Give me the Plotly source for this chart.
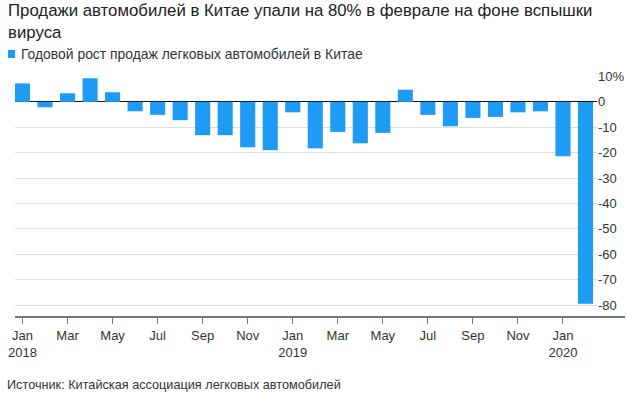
import plotly.graph_objects as go

months = ["Jan 2018", "Feb 2018", "Mar 2018", "Apr 2018", "May 2018", "Jun 2018",
          "Jul 2018", "Aug 2018", "Sep 2018", "Oct 2018", "Nov 2018", "Dec 2018",
          "Jan 2019", "Feb 2019", "Mar 2019", "Apr 2019", "May 2019", "Jun 2019",
          "Jul 2019", "Aug 2019", "Sep 2019", "Oct 2019", "Nov 2019", "Dec 2019",
          "Jan 2020", "Feb 2020"]
growth = [7.3, -2.1, 3.4, 9.3, 3.8, -3.7, -5.1, -7.2, -13.1, -13.1, -17.9, -19.0,
          -4.1, -18.3, -11.8, -16.3, -12.2, 4.8, -5.1, -9.6, -6.3, -5.9, -4.1, -3.7,
          -21.4, -79.5]
x_tick_pos = [0, 2, 4, 6, 8, 10, 12, 14, 16, 18, 20, 22, 24]
x_tick_text = ["Jan<br>2018", "Mar", "May", "Jul", "Sep", "Nov", "Jan<br>2019",
               "Mar", "May", "Jul", "Sep", "Nov", "Jan<br>2020"]
y_tick_vals = [10, 0, -10, -20, -30, -40, -50, -60, -70, -80]
y_tick_text = ["10%", "0", "-10", "-20", "-30", "-40", "-50", "-60", "-70", "-80"]

title = "Продажи автомобилей в Китае упали на 80% в феврале на фоне вспышки<br>вируса"
legend_text = "Годовой рост продаж легковых автомобилей в Китае"
source = "Источник: Китайская ассоциация легковых автомобилей"

BLUE = "#1e9bf5"
FONT = "Liberation Sans, Arial, sans-serif"

W, H = 627, 396
L, R, T, B = 15, 30, 76, 79
pw, ph = W - L - R, H - T - B


def px_x(p):
    return (p - L) / pw


def px_y(p):
    return (H - B - p) / ph


fig = go.Figure(go.Bar(
    x=list(range(len(months))), y=growth, width=0.67,
    marker=dict(color=BLUE, line=dict(width=0)),
    hovertext=months, showlegend=False,
))

fig.update_layout(
    width=W, height=H,
    margin=dict(l=L, r=R, t=T, b=B, pad=0, autoexpand=False),
    paper_bgcolor="white", plot_bgcolor="white",
    font=dict(family=FONT, color="#333333", size=13),
    xaxis=dict(range=[-0.333, 25.51], tickvals=x_tick_pos, ticktext=x_tick_text,
               ticks="outside", ticklen=6, tickcolor="#777777", tickwidth=1,
               showgrid=False, zeroline=False, showline=False, automargin=False,
               tickfont=dict(size=13, color="#333333")),
    yaxis=dict(range=[-84.7, 10.2], side="right", tickvals=y_tick_vals,
               ticktext=y_tick_text, showgrid=True, gridcolor="#dddddd",
               gridwidth=1, zeroline=True, zerolinecolor="#111111",
               zerolinewidth=1, ticks="", showline=False, automargin=False,
               tickfont=dict(size=13, color="#333333")),
    bargap=0.33,
)

# title
fig.add_annotation(text=title, xref="paper", yref="paper",
                   x=px_x(7), y=px_y(0), xanchor="left", yanchor="top",
                   align="left", showarrow=False, borderpad=0,
                   font=dict(size=16.8, color="#222222"))

# x-axis baseline extending to the right edge
fig.add_shape(type="line", xref="paper", yref="paper",
              x0=0, x1=px_x(625), y0=0, y1=0,
              line=dict(color="#777777", width=2))

# legend swatch + text
fig.add_shape(type="rect", xref="paper", yref="paper",
              x0=px_x(8), x1=px_x(15), y0=px_y(58), y1=px_y(50),
              fillcolor=BLUE, line=dict(width=0))
fig.add_annotation(text=legend_text, xref="paper", yref="paper",
                   x=px_x(20), y=px_y(54), xanchor="left", yanchor="middle",
                   showarrow=False, borderpad=0,
                   font=dict(size=13.9, color="#333333"))

# source
fig.add_annotation(text=source, xref="paper", yref="paper",
                   x=px_x(6), y=px_y(385), xanchor="left", yanchor="middle",
                   showarrow=False, borderpad=0,
                   font=dict(size=12.7, color="#333333"))

fig.write_html("out.html", post_script="document.body.style.margin='0';",
               config={"displayModeBar": False})
